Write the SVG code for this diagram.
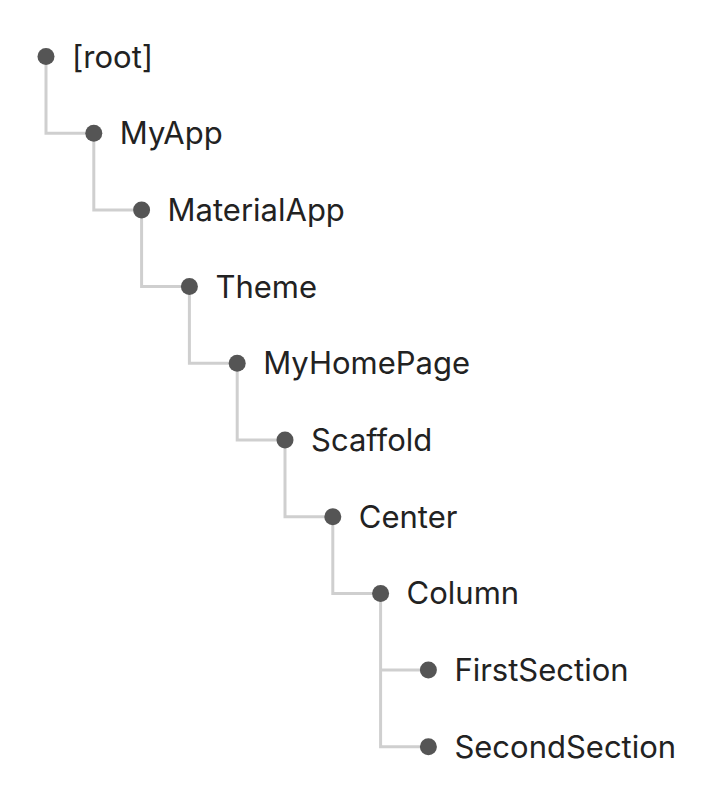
<svg xmlns="http://www.w3.org/2000/svg" width="712" height="800" viewBox="0 0 712 800">
<style>
.c{fill:none;stroke:#cfcfcf;stroke-width:3}
.d{fill:#555555}
.t{font-family:Inter,"Liberation Sans",sans-serif;font-size:31px;fill:#222222}
</style>
<rect width="712" height="800" fill="#ffffff"/>
<g id="connectors">
<path class="c" d="M46,56.5 V133.2 H93.8"/>
<path class="c" d="M93.8,133.2 V209.9 H141.6"/>
<path class="c" d="M141.6,209.9 V286.6 H189.4"/>
<path class="c" d="M189.4,286.6 V363.3 H237.2"/>
<path class="c" d="M237.2,363.3 V440 H285"/>
<path class="c" d="M285,440 V516.7 H332.8"/>
<path class="c" d="M332.8,516.7 V593.4 H380.6"/>
<path class="c" d="M380.6,593.4 V746.8 H428.4"/>
<path class="c" d="M380.6,670.1 H428.4"/>
</g>
<g id="root"><circle class="d" cx="46" cy="56.5" r="8.5"/><text class="t" x="72" y="67.5">[root]</text></g>
<g id="MyApp"><circle class="d" cx="93.8" cy="133.2" r="8.5"/><text class="t" x="119.8" y="144.2">MyApp</text></g>
<g id="MaterialApp"><circle class="d" cx="141.6" cy="209.9" r="8.5"/><text class="t" x="167.6" y="220.9">MaterialApp</text></g>
<g id="Theme"><circle class="d" cx="189.4" cy="286.6" r="8.5"/><text class="t" x="215.4" y="297.6">Theme</text></g>
<g id="MyHomePage"><circle class="d" cx="237.2" cy="363.3" r="8.5"/><text class="t" x="263.2" y="374.3">MyHomePage</text></g>
<g id="Scaffold"><circle class="d" cx="285" cy="440" r="8.5"/><text class="t" x="311" y="451">Scaffold</text></g>
<g id="Center"><circle class="d" cx="332.8" cy="516.7" r="8.5"/><text class="t" x="358.8" y="527.7">Center</text></g>
<g id="Column"><circle class="d" cx="380.6" cy="593.4" r="8.5"/><text class="t" x="406.6" y="604.4">Column</text></g>
<g id="FirstSection"><circle class="d" cx="428.4" cy="670.1" r="8.5"/><text class="t" x="454.4" y="681.1">FirstSection</text></g>
<g id="SecondSection"><circle class="d" cx="428.4" cy="746.8" r="8.5"/><text class="t" x="454.4" y="757.8">SecondSection</text></g>
</svg>
